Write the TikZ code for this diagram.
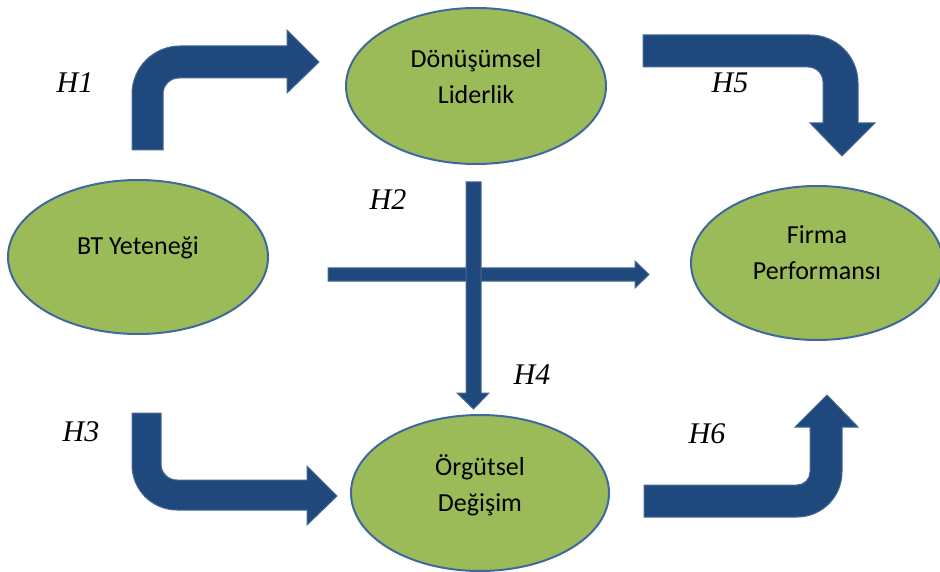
\documentclass[tikz,border=0pt]{standalone}
\usepackage{fontspec}
\setmainfont{Carlito}
\newfontfamily\hfont{Liberation Serif}
\usetikzlibrary{shapes.geometric}
\definecolor{ellfill}{RGB}{155,187,89}
\definecolor{elldraw}{RGB}{64,104,160}
\definecolor{arrfill}{RGB}{31,73,125}
\definecolor{arrdraw}{RGB}{70,105,150}
\tikzset{
  ell/.style={ellipse, fill=ellfill, draw=elldraw, line width=2pt, inner sep=0pt},
  etext/.style={font=\fontsize{26}{36}\selectfont, align=center, text=black, inner sep=0pt},
  hlab/.style={font=\hfont\itshape\fontsize{30}{30}\selectfont, text=black, inner sep=0pt},
  blockarrow/.style={fill=arrfill, draw=arrdraw, line width=1pt, line join=miter}
}
\begin{document}
\begin{tikzpicture}[x=1pt,y=1pt]
\useasboundingbox (0,-572) rectangle (940,0);
% ellipses
\node[ell, minimum width=260pt, minimum height=154pt] (bt) at (138,-257) {};
\node[ell, minimum width=260pt, minimum height=156pt] (dl) at (476,-86) {};
\node[ell, minimum width=252pt, minimum height=154pt] (fp) at (817,-263) {};
\node[ell, minimum width=258pt, minimum height=156pt] (od) at (480,-493) {};
% ellipse texts
\node[etext] (btt) at ([yshift=9pt]bt.center) {BT Yeteneği};
\node[etext] (dlt) at ([yshift=9pt]dl.center) {Dönüşümsel\\Liderlik};
\node[etext] (fpt) at ([yshift=10pt]fp.center) {Firma\\Performansı};
\node[etext] (odt) at ([yshift=8pt]od.center) {Örgütsel\\Değişim};
% H1 bent arrow
\draw[blockarrow] (132,-150) -- (132,-94) arc[start angle=180, end angle=90, radius=48]
  -- (287,-46) -- (287,-30) -- (319,-62) -- (287,-93) -- (287,-78) -- (179,-78)
  arc[start angle=90, end angle=180, radius=16] -- (163,-150) -- cycle;
% H5 bent arrow
\draw[blockarrow] (643,-35) -- (810,-35) arc[start angle=90, end angle=0, radius=48]
  -- (858,-123) -- (875,-123) -- (842,-156) -- (810,-123) -- (823,-123) -- (823,-82)
  arc[start angle=0, end angle=90, radius=15] -- (643,-67) -- cycle;
% H3 bent arrow
\draw[blockarrow] (132,-413) -- (132,-465) arc[start angle=180, end angle=270, radius=45]
  -- (307,-510) -- (307,-525) -- (337,-496) -- (307,-466) -- (307,-480) -- (177,-480)
  arc[start angle=270, end angle=180, radius=16] -- (161,-413) -- cycle;
% H6 bent arrow
\draw[blockarrow] (644,-517) -- (797,-517) arc[start angle=270, end angle=360, radius=45]
  -- (842,-427) -- (858,-427) -- (827,-395) -- (795,-427) -- (810,-427) -- (810,-472)
  arc[start angle=0, end angle=-90, radius=13] -- (644,-485) -- cycle;
% horizontal straight arrow (H2)
\draw[blockarrow] (328,-268) -- (635,-268) -- (635,-261) -- (649,-274.5) -- (635,-288)
  -- (635,-281) -- (328,-281) -- cycle;
% vertical straight arrow (H4)
\draw[blockarrow] (466,-182) -- (481,-182) -- (481,-393) -- (489,-393) -- (473.5,-409)
  -- (457,-393) -- (466,-393) -- cycle;
% labels
\node[hlab] (h1) at (75,-83) {H1};
\node[hlab] (h2) at (388,-200) {H2};
\node[hlab] (h3) at (81,-432) {H3};
\node[hlab] (h4) at (532,-375) {H4};
\node[hlab] (h5) at (730,-83) {H5};
\node[hlab] (h6) at (707,-434) {H6};
\end{tikzpicture}
\end{document}
